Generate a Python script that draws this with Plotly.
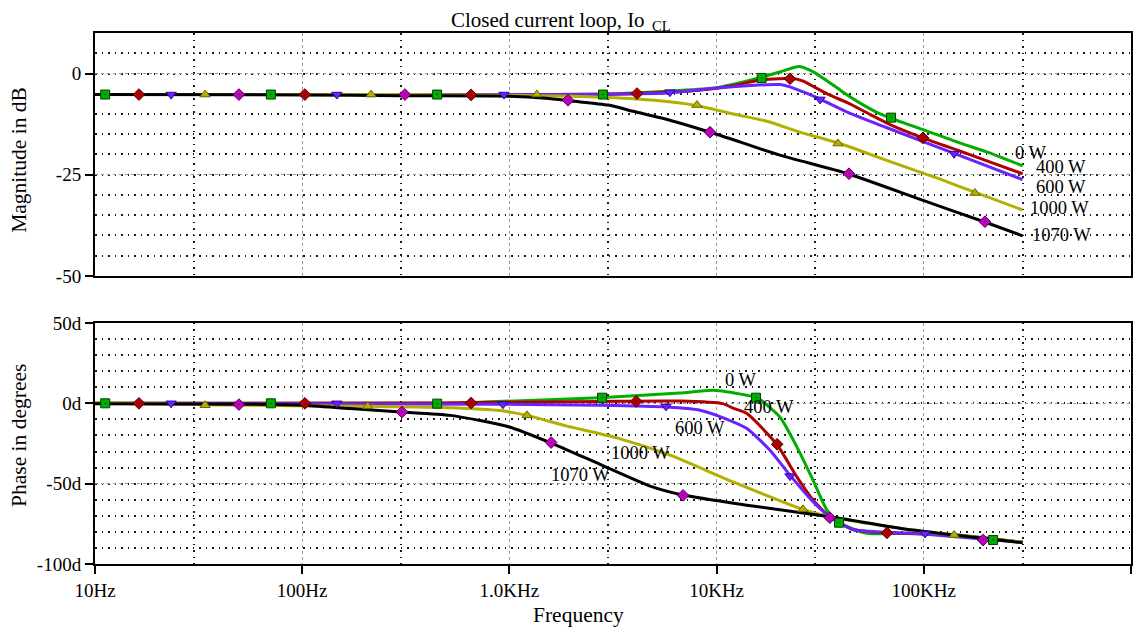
import plotly.graph_objects as go

FONT = "Liberation Serif, Times New Roman, serif"

# ---------------- data: magnitude (dB) ----------------
f_mag_0w = [10, 1000, 3000, 4000, 6000, 10000, 16000, 20000, 25000, 28000, 30000, 35000, 40000, 50000, 60000, 80000, 100000, 150000, 200000, 300000]
mag_0w = [-5.2, -5.2, -5.1, -4.8, -4.3, -3.5, -1.1, 0.3, 1.7, 0.9, 0.1, -2.2, -4.3, -7.5, -9.7, -12.2, -13.9, -17.2, -19.3, -22.8]

f_mag_400w = [10, 1000, 3000, 4000, 8000, 12000, 16000, 20000, 22600, 26000, 30000, 35000, 43000, 55000, 68700, 99000, 150000, 200000, 300000]
mag_400w = [-5.2, -5.2, -5.1, -4.95, -4.2, -3.0, -1.65, -1.3, -1.2, -1.8, -3.5, -5.3, -7.25, -10.1, -12.6, -15.9, -19.2, -21.5, -24.75]

f_mag_600w = [10, 1000, 3000, 5800, 10000, 14500, 20200, 22600, 26000, 31600, 43000, 66400, 138000, 300000]
mag_600w = [-5.2, -5.2, -5.1, -4.8, -3.6, -2.97, -2.72, -3.3, -4.5, -6.3, -9.6, -13.4, -19.6, -26.2]

f_mag_1000w = [10, 300, 1000, 2000, 3000, 5000, 8000, 12000, 17500, 25000, 40000, 70000, 120000, 180000, 300000]
mag_1000w = [-5.2, -5.2, -5.4, -5.6, -5.9, -6.6, -7.9, -10.0, -11.8, -14.4, -17.4, -21.9, -26.1, -29.5, -33.7]

f_mag_1070w = [10, 100, 300, 1000, 1500, 2000, 3000, 4000, 6000, 10000, 20000, 43000, 100000, 200000, 300000]
mag_1070w = [-5.2, -5.3, -5.5, -5.6, -6.1, -6.8, -7.8, -9.4, -11.6, -15.0, -20.1, -24.75, -31.4, -36.8, -40.1]

# ---------------- data: phase (deg) ----------------
f_ph_0w = [10, 448, 747, 2735, 6650, 9620, 14000, 15700, 20200, 24400, 29200, 34100, 39400, 53200, 74300, 133700, 300000]
ph_0w = [0, 0, 0.8, 3.5, 6.4, 8.1, 5.0, 3.5, -8.5, -27.1, -47.8, -66.4, -74.7, -80.9, -80.9, -81.5, -86.5]

f_ph_400w = [10, 448, 2700, 6650, 10700, 12000, 14000, 19500, 24400, 29200, 35200, 45500, 66400, 133700, 300000]
ph_400w = [0, 0.2, 1.2, 1.4, -0.2, -3.0, -6.4, -25.5, -45.8, -60.2, -70.6, -78.5, -80.6, -82, -86.5]

f_ph_600w = [10, 930, 2735, 5770, 8320, 11000, 14000, 18100, 22600, 29200, 35200, 45500, 99000, 300000]
ph_600w = [0, -0.6, -1.2, -2.3, -4.3, -9.5, -15.7, -29.2, -44.7, -61.3, -70.6, -78.5, -81.3, -86.5]

f_ph_1000w = [10, 40, 206, 516, 902, 1217, 1897, 3304, 5960, 12000, 26100, 35200, 88700, 300000]
ph_1000w = [0.3, -1.0, -1.9, -2.7, -4.5, -7.5, -14.2, -21.5, -32.3, -48.9, -66, -70.6, -79, -86.5]

f_ph_1070w = [10, 56, 100, 170, 300, 520, 1000, 1570, 2740, 4780, 6890, 14000, 35200, 88700, 300000]
ph_1070w = [-0.3, -0.6, -1.2, -3.3, -5.4, -7.5, -14.7, -24.4, -38.0, -51.5, -57.1, -63.4, -70.6, -78.9, -86.8]

# ---------------- marker points ----------------
mk_mag_f = {
    "0 W": [11.2, 70.6, 448, 2831, 16500, 69500],
    "400 W": [16.3, 103, 653, 4130, 22600, 99100],
    "600 W": [23.3, 147, 942, 5957, 31560, 140000],
    "1000 W": [34, 215, 1358, 8035, 38550, 176600],
    "1070 W": [49.5, 313, 1918, 9290, 43550, 197300],
}
mk_mag_v = {
    "0 W": [-5.2, -5.2, -5.2, -5.2, -1.1, -10.9],
    "400 W": [-5.2, -5.2, -5.3, -4.95, -1.3, -15.9],
    "600 W": [-5.2, -5.2, -5.2, -4.6, -6.4, -19.8],
    "1000 W": [-5.2, -5.2, -5.2, -7.8, -17.3, -29.5],
    "1070 W": [-5.2, -5.2, -6.6, -14.5, -24.75, -36.6],
}
mk_ph_f = {
    "0 W": [11.2, 70.6, 448, 2800, 15500, 39000, 216000],
    "400 W": [16.3, 103, 653, 4090, 19600, 66400],
    "600 W": [23.3, 147, 930, 5700, 22600, 101400],
    "1000 W": [34, 207, 1217, 26100, 140000],
    "1070 W": [49.5, 303, 1590, 6890, 35200, 193300],
}
mk_ph_v = {
    "0 W": [0, 0, -0.2, 3.5, 3.5, -74.3, -85.1],
    "400 W": [0, 0, 0.2, 1.2, -25.5, -80.6],
    "600 W": [0, 0, -0.6, -1.9, -45.3, -81.0],
    "1000 W": [-1.2, -1.9, -7.5, -66, -82],
    "1070 W": [-0.8, -5.4, -24.4, -57.3, -71.2, -85.1],
}

series = ["0 W", "400 W", "600 W", "1000 W", "1070 W"]
mag_f = {"0 W": f_mag_0w, "400 W": f_mag_400w, "600 W": f_mag_600w, "1000 W": f_mag_1000w, "1070 W": f_mag_1070w}
mag_v = {"0 W": mag_0w, "400 W": mag_400w, "600 W": mag_600w, "1000 W": mag_1000w, "1070 W": mag_1070w}
ph_f = {"0 W": f_ph_0w, "400 W": f_ph_400w, "600 W": f_ph_600w, "1000 W": f_ph_1000w, "1070 W": f_ph_1070w}
ph_v = {"0 W": ph_0w, "400 W": ph_400w, "600 W": ph_600w, "1000 W": ph_1000w, "1070 W": ph_1070w}

line_color = {"0 W": "#00ad00", "400 W": "#b00000", "600 W": "#6a22ff", "1000 W": "#b3ae00", "1070 W": "#000000"}
mk_color = {"0 W": "#00ad00", "400 W": "#b00000", "600 W": "#6a22ff", "1000 W": "#b3ae00", "1070 W": "#c000c0"}
mk_edge = {"0 W": "#004000", "400 W": "#500000", "600 W": "#3000a0", "1000 W": "#6a6600", "1070 W": "#500050"}
mk_symbol = {"0 W": "square-dot", "400 W": "diamond-dot", "600 W": "triangle-down", "1000 W": "triangle-up", "1070 W": "diamond-dot"}

fig = go.Figure()

for s in series:
    fig.add_trace(go.Scatter(x=mag_f[s], y=mag_v[s], mode="lines", xaxis="x", yaxis="y",
                             line=dict(color=line_color[s], width=3, shape="spline", smoothing=0.6),
                             showlegend=False, hoverinfo="skip"))
    fig.add_trace(go.Scatter(x=ph_f[s], y=ph_v[s], mode="lines", xaxis="x2", yaxis="y2",
                             line=dict(color=line_color[s], width=3, shape="spline", smoothing=0.6),
                             showlegend=False, hoverinfo="skip"))
for s in series:
    mk = dict(symbol=mk_symbol[s], size=9, color=mk_color[s], line=dict(color=mk_edge[s], width=1))
    fig.add_trace(go.Scatter(x=mk_mag_f[s], y=mk_mag_v[s], mode="markers", xaxis="x", yaxis="y",
                             marker=mk, showlegend=False, hoverinfo="skip"))
    fig.add_trace(go.Scatter(x=mk_ph_f[s], y=mk_ph_v[s], mode="markers", xaxis="x2", yaxis="y2",
                             marker=mk, showlegend=False, hoverinfo="skip"))

decades = [10, 100, 1000, 10000, 100000, 1000000]
decade_labels = ["10Hz", "100Hz", "1.0KHz", "10KHz", "100KHz", "1.0MHz"]
thirds = [30, 300, 3000, 30000, 300000]

major_grid = dict(showgrid=True, gridcolor="#9a9a9a", griddash="dot", gridwidth=1)
minor_grid = dict(showgrid=True, gridcolor="#1a1a1a", griddash="1.5px,5px", gridwidth=1.5, ticks="")
box = dict(showline=True, linecolor="black", linewidth=2, mirror=True, zeroline=False)
tickfont = dict(family=FONT, size=19, color="black")

# the page body adds an 8px offset, so the figure is 8px smaller and margins shifted
fig.update_layout(
    width=1135, height=624,
    margin=dict(l=87, r=12, t=25, b=68, autoexpand=False),
    paper_bgcolor="white", plot_bgcolor="white",
    font=dict(family=FONT, size=18, color="black"),
    xaxis=dict(domain=[0, 1], anchor="y", type="log", range=[1, 6], tickvals=decades,
               showticklabels=False, ticks="", minor=dict(tickvals=thirds, **minor_grid),
               **major_grid, **box),
    yaxis=dict(domain=[0.5424, 1], anchor="x", range=[-50, 10], tickvals=[0, -25, -50],
               ticktext=["0", "-25", "-50"], ticks="outside", ticklen=8, tickwidth=1.5,
               tickcolor="black", tickfont=tickfont,
               minor=dict(tickmode="linear", tick0=0, dtick=5, **minor_grid),
               **major_grid, **box),
    xaxis2=dict(domain=[0, 1], anchor="y2", type="log", range=[1, 6], tickvals=decades,
                ticktext=decade_labels, ticks="outside", ticklen=8, tickwidth=1.5,
                tickcolor="black", tickfont=tickfont,
                minor=dict(tickvals=thirds, **minor_grid), **major_grid, **box),
    yaxis2=dict(domain=[0, 0.4539], anchor="x2", range=[-100, 50], tickvals=[50, 0, -50, -100],
                ticktext=["50d", "0d", "-50d", "-100d"], ticks="outside", ticklen=8, tickwidth=1.5,
                tickcolor="black", tickfont=tickfont,
                minor=dict(tickmode="linear", tick0=0, dtick=10, **minor_grid),
                **major_grid, **box),
)

ann = []
# titles
ann.append(dict(text="Closed current loop, Io<sub>_CL</sub>", xref="paper", yref="paper",
                x=0.4498, y=1.0235, xanchor="center", yanchor="middle", showarrow=False,
                font=dict(family=FONT, size=21)))
ann.append(dict(text="Frequency", xref="paper", yref="paper", x=0.467, y=-0.096,
                xanchor="center", yanchor="middle", showarrow=False, font=dict(family=FONT, size=21.5)))
ann.append(dict(text="Magnitude in dB", xref="paper", yref="paper", x=-0.0734, y=0.761,
                xanchor="center", yanchor="middle", textangle=-90, showarrow=False,
                font=dict(family=FONT, size=21.5)))
ann.append(dict(text="Phase in degrees", xref="paper", yref="paper", x=-0.0734, y=0.243,
                xanchor="center", yanchor="middle", textangle=-90, showarrow=False,
                font=dict(family=FONT, size=21.5)))

# curve labels (magnitude, left-anchored at log10 f)
top_lab = [("0 W", 5.430, -19.6), ("400 W", 5.532, -23.0), ("600 W", 5.532, -28.0),
           ("1000 W", 5.503, -33.2), ("1070 W", 5.513, -39.9)]
for t, lx, ly in top_lab:
    ann.append(dict(text=t, xref="x", yref="y", x=lx, y=ly, xanchor="left", yanchor="middle",
                    showarrow=False, font=dict(family=FONT, size=18.5)))
bot_lab = [("0 W", 4.118, 14.3), ("400 W", 4.253, -2.5), ("600 W", 3.92, -15.5),
           ("1000 W", 3.635, -31.1), ("1070 W", 3.341, -44.7)]
for t, lx, ly in bot_lab:
    ann.append(dict(text=t, xref="x2", yref="y2", x=lx, y=ly, xanchor="center", yanchor="middle",
                    showarrow=False, font=dict(family=FONT, size=18.5)))
fig.update_layout(annotations=ann)

fig.write_html("out.html")
